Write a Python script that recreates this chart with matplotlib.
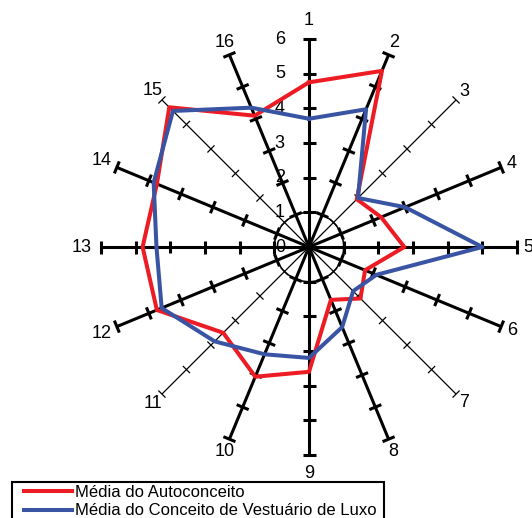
import numpy as np
import matplotlib
matplotlib.use("Agg")
import matplotlib.pyplot as plt
from matplotlib.collections import LineCollection
from matplotlib.patches import Rectangle
from matplotlib.lines import Line2D

plt.rcParams['font.family'] = ['Liberation Sans', 'DejaVu Sans']

# Categories (one spoke per item) and the two series of means
categories = [str(i) for i in range(1, 17)]
autoconceito = [4.75, 5.5, 1.95, 2.25, 2.75, 1.75, 2.1, 1.65,
                3.6, 4.05, 3.5, 4.75, 4.8, 4.75, 5.7, 4.1]
vestuario_luxo = [3.7, 4.3, 2.0, 3.0, 5.0, 2.1, 1.8, 2.5,
                  3.2, 3.35, 3.85, 4.6, 4.4, 4.85, 5.55, 4.35]
radial_ticks = [0, 1, 2, 3, 4, 5, 6]
series_names = ["Média do Autoconceito",
                "Média do Conceito de Vestuário de Luxo"]

RED = "#ED1C24"
BLUE = "#3A54A4"
W, H = 532, 518
fig = plt.figure(figsize=(W / 100, H / 100), dpi=100)

cx, cy, R = 309, 247, 208
ax = fig.add_axes([(cx - R) / W, (H - cy - R) / H, 2 * R / W, 2 * R / H],
                  projection="polar")
ax.set_theta_zero_location("N")
ax.set_theta_direction(-1)
rmax = radial_ticks[-1]
ax.set_ylim(0, rmax)
ax.set_axis_off()

n = len(categories)
angles = np.arange(n) * 2 * np.pi / n
unit_px = R / rmax

# Spokes with perpendicular tick marks
thin_spokes = {2, 6, 10, 14}
for i, th in enumerate(angles):
    thin = i in thin_spokes
    lw = 0.9 if thin else 2.2
    half = (5.0 if thin else 6.5) / unit_px
    ax.plot([th, th], [0, rmax], color="black", lw=lw, zorder=2,
            solid_capstyle="butt")
    segs = []
    for r in radial_ticks[1:]:
        rr = np.hypot(r, half)
        d = np.arctan2(half, r)
        segs.append([(th - d, rr), (th + d, rr)])
    lc = LineCollection(segs, colors="black", linewidths=lw, zorder=2,
                        capstyle="butt")
    lc.set_clip_on(False)
    ax.add_collection(lc)

# Inner ring at radius 1
ring = np.linspace(0, 2 * np.pi, 200)
ax.plot(ring, np.full_like(ring, radial_ticks[1]), color="black", lw=1.1,
        zorder=2)

# Category labels around the outside
for i, th in enumerate(angles):
    lab = categories[i]
    r = 6.33 + 0.2 * np.cos(th) ** 16
    if len(lab) > 1:
        r += 0.22 * np.sin(th) ** 4
    ax.text(th, r, lab, ha="center", va="center", fontsize=13,
            color="black", clip_on=False)

# Radial value labels beside spoke 1
for v in radial_ticks:
    ax.annotate(str(v), xy=(0, v), xytext=(-21, 0),
                textcoords="offset points", ha="center", va="center",
                fontsize=13, color="black", annotation_clip=False)

# Series
closed = np.append(angles, angles[0])
ax.plot(closed, autoconceito + autoconceito[:1], color=RED, lw=2.9,
        zorder=3, clip_on=False)
ax.plot(closed, vestuario_luxo + vestuario_luxo[:1], color=BLUE, lw=2.9,
        zorder=4, clip_on=False)

# Legend with a plain box
handles = [Line2D([], [], color=RED, lw=2.9),
           Line2D([], [], color=BLUE, lw=2.9)]
fig.legend(handles, series_names, loc="upper left",
           bbox_to_anchor=(24 / W, 1 - 485 / H), frameon=False,
           fontsize=12, borderpad=0, borderaxespad=0, handlelength=2.85,
           handletextpad=0.2, labelspacing=0.2)
fig.add_artist(Rectangle((12 / W, -10 / H), 372 / W, (H - 482 + 10) / H,
                         transform=fig.transFigure, fill=False,
                         edgecolor="black", lw=1.5, clip_on=False))

fig.savefig("out.png", dpi=100)
